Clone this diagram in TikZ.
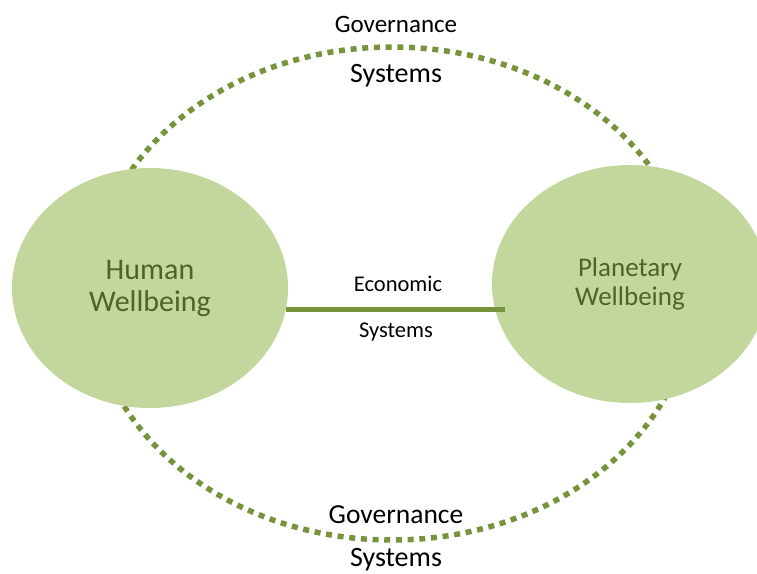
\documentclass[tikz,border=0pt]{standalone}
\usepackage{fontspec}
\setmainfont{Carlito}
\usetikzlibrary{shapes.geometric,calc}
\definecolor{oliveFill}{HTML}{C3D69B}
\definecolor{oliveLine}{HTML}{77933C}
\definecolor{oliveText}{HTML}{4F6228}
\tikzstyle{wellbeing} = [ellipse, fill=oliveFill, inner sep=0pt, align=center, text=oliveText]
\tikzstyle{governance} = [draw=oliveLine, line width=5.5pt, dash pattern=on 6pt off 5.7pt]
\tikzstyle{econline} = [draw=oliveLine, line width=5pt]
\newcommand{\fs}[1]{\fontsize{#1}{#1}\selectfont}

\begin{document}
\begin{tikzpicture}[x=1pt, y=-1pt]%
			\useasboundingbox (0,0) rectangle (757,573);%
			\draw[governance] (392,293.5) ellipse [x radius=301, y radius=246.5];%
			\node[wellbeing, minimum width=276pt, minimum height=240pt,%
				font=\fontsize{30}{32}\selectfont] (hw) at (150,288) {Human\\Wellbeing};%
			\node[wellbeing, minimum width=276pt, minimum height=238pt,%
				font=\fontsize{27}{29}\selectfont] (pw) at (630,284) {Planetary\\Wellbeing};%
			\draw[econline] (hw.-9.5) -- ($(hw.-9.5 -| pw.west)+(13,0)$);%
			\node[anchor=base, font=\fs{25}] (govtop) at (396,32) {Governance};%
			\node[anchor=base, font=\fs{28}] (systop) at (396,82) {Systems};%
			\node[anchor=base, font=\fs{22.5}] (econ) at (398,291) {Economic};%
			\node[anchor=base, font=\fs{22.5}] (sysmid) at (396,337) {Systems};%
			\node[anchor=base, font=\fs{27.5}] (govbot) at (396,523) {Governance};%
			\node[anchor=base, font=\fs{28}] (sysbot) at (396,566) {Systems};%
		\end{tikzpicture}
\end{document}
